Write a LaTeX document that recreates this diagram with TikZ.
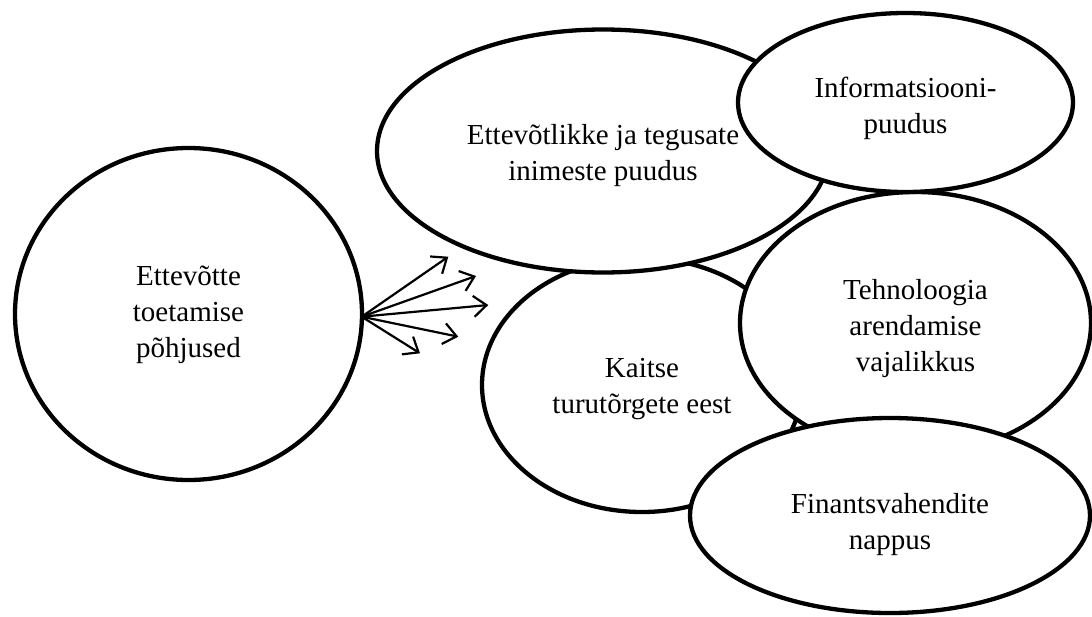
\documentclass[tikz,border=0pt]{standalone}
\usepackage{fontspec}
\setmainfont{Liberation Serif}
\usetikzlibrary{shapes.geometric,arrows.meta}
\begin{document}
\begin{tikzpicture}[x=1pt,y=-1pt,
  ell/.style={ellipse, draw, line width=4.3pt, fill=white, inner sep=0pt},
  txt/.style={align=center, inner sep=0pt, font=\fontsize{29}{36}\selectfont},
  arr/.style={line width=2.2pt, -{Straight Barb[length=13pt,width=21pt,line width=2.2pt]}}]
\useasboundingbox (0,0) rectangle (1092,616);
\node[ell, minimum width=347pt, minimum height=332pt] (c1) at (188.5,314) {};
\node[txt] (c1t) at ([yshift=-1pt]c1.center) {Ettevõtte\\toetamise\\põhjused};
\node[ell, minimum width=320pt, minimum height=254pt] (kaitse) at (642,385) {};
\node[txt] (kaitset) at ([yshift=-4pt]kaitse.center) {Kaitse\\turutõrgete eest};
\node[ell, minimum width=351pt, minimum height=262pt] (tehn) at (915.5,323) {};
\node[txt] (tehnt) at ([yshift=-6pt]tehn.center) {Tehnoloogia\\arendamise\\vajalikkus};
\node[ell, minimum width=400pt, minimum height=195pt] (fin) at (890,515.5) {};
\node[txt] (fint) at ([yshift=-9pt]fin.center) {Finantsvahendite\\nappus};
\node[ell, minimum width=452pt, minimum height=243pt] (ettev) at (603,151) {};
\node[txt] (ettevt) at ([yshift=-5pt]ettev.center) {Ettevõtlikke ja tegusate\\inimeste puudus};
\node[ell, minimum width=335pt, minimum height=179pt] (info) at (905.5,102.5) {};
\node[txt] (infot) at ([yshift=-6pt]info.center) {Informatsiooni-\\puudus};
\coordinate (o) at (361.7,316.7);
\coordinate (t1) at (448.3,256.7);
\coordinate (t2) at (476,276);
\coordinate (t3) at (488.3,305);
\coordinate (t4) at (458.3,336.7);
\coordinate (t5) at (420,353.3);
\foreach \t in {t1,t2,t3,t4,t5} \draw[arr] (o) -- (\t);
\end{tikzpicture}
\end{document}
